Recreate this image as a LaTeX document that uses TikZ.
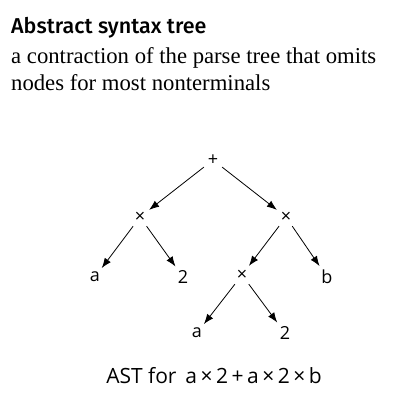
\documentclass[tikz,border=0pt]{standalone}
\usepackage{fontspec}
\setmainfont{Liberation Serif}
\newfontfamily\treefont{Open Sans}
\newfontfamily\titlefont{Fira Sans}[UprightFont=* Medium]
\usetikzlibrary{arrows.meta}
\begin{document}
\begin{tikzpicture}
  [x=1pt,y=-1pt,
   every node/.style={inner sep=0pt},
   lbl/.style={font=\treefont\fontsize{18}{21}\selectfont,inner sep=3pt},
   edge/.style={-{Latex[length=10pt,width=7.5pt]},line width=0.8pt,shorten <=1pt,shorten >=1pt}]
  \useasboundingbox (0,0) rectangle (412,400);
  \node[anchor=base west,font=\titlefont\fontsize{21.5}{25}\selectfont] (title) at (11,33) {Abstract syntax tree};
  \node[anchor=base west,font=\fontsize{22.7}{26}\selectfont] (line1) at (11,63) {a contraction of the parse tree that omits};
  \node[anchor=base west,font=\fontsize{22.7}{26}\selectfont] (line2) at (11,90) {nodes for most nonterminals};
  \node[lbl] (n1) at (213,160) {+};
  \node[lbl] (n2) at (140,217) {×};
  \node[lbl] (n3) at (286,217) {×};
  \node[lbl] (n4) at (95,277)  {a};
  \node[lbl] (n5) at (183,277) {2};
  \node[lbl] (n6) at (242,275) {×};
  \node[lbl] (n7) at (327,277) {b};
  \node[lbl] (n8) at (197,333) {a};
  \node[lbl] (n9) at (285,333) {2};
  \foreach \from/\to in {n1/n2,n1/n3,n2/n4,n2/n5,n3/n6,n3/n7,n6/n8,n6/n9}
    \draw[edge] (\from) -- (\to);
  \node[anchor=base,font=\treefont\fontsize{21}{24}\selectfont] (cap) at (214,383) {AST for\, a\,×\,2\,+\,a\,×\,2\,×\,b};
\end{tikzpicture}
\end{document}
